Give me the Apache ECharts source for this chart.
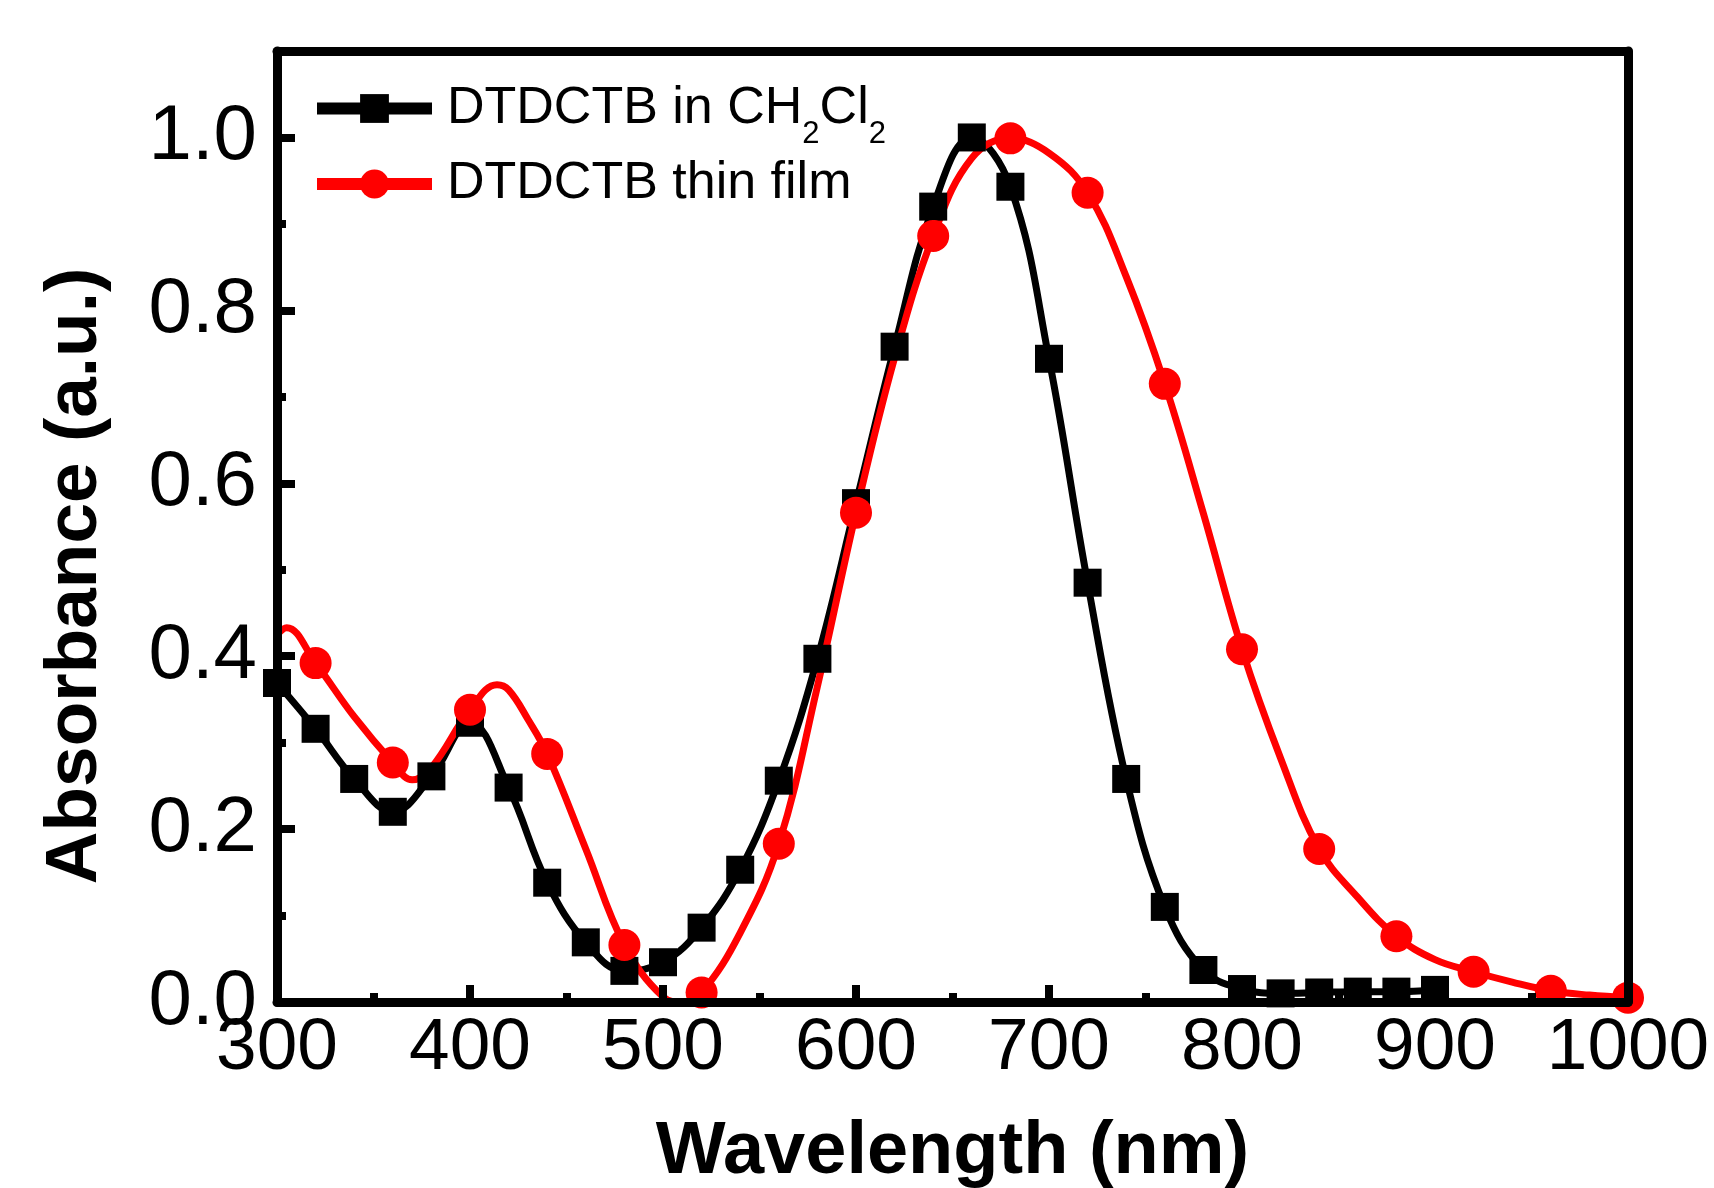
<!DOCTYPE html>
<html lang="en">
<head>
    <meta charset="UTF-8">
    <title>DTDCTB absorbance</title>
    <script src="https://cdn.jsdelivr.net/npm/echarts@6/dist/echarts.min.js"></script>
    <style>
        html, body { margin: 0; padding: 0; background: #fff; }
        #main { width: 1714px; height: 1188px; }
    </style>
</head>
<body>
    <div id="main"></div>
    <script>
        // DTDCTB in CH2Cl2 (every point carries a square marker)
        var blackWl = [300, 320, 340, 360, 380, 400, 420, 440, 460, 480, 500, 520, 540, 560, 580, 600,
            620, 640, 660, 680, 700, 720, 740, 760, 780, 800, 820, 840, 860, 880, 900];
        var blackAbs = [0.369, 0.316, 0.258, 0.220, 0.261, 0.323, 0.248, 0.138, 0.069, 0.036, 0.046, 0.086,
            0.153, 0.256, 0.397, 0.577, 0.758, 0.920, 1.000, 0.943, 0.744, 0.485, 0.258, 0.110, 0.037,
            0.015, 0.010, 0.011, 0.012, 0.012, 0.014];

        // DTDCTB thin film (curve readings; circle markers every 40 nm from 320)
        var redWl = [300, 305, 320, 340, 360, 370, 380, 400, 414, 420, 430, 440, 460, 480, 500, 510, 520,
            540, 560, 580, 600, 620, 640, 660, 680, 700, 720, 740, 760, 780, 800, 820, 840, 860, 880, 900,
            920, 940, 960, 980, 1000];
        var redAbs = [0.425, 0.433, 0.392, 0.330, 0.277, 0.257, 0.271, 0.338, 0.367, 0.361, 0.327, 0.287,
            0.177, 0.066, 0.006, 0.000, 0.011, 0.080, 0.183, 0.365, 0.566, 0.745, 0.886, 0.976, 0.999,
            0.982, 0.936, 0.839, 0.715, 0.565, 0.408, 0.282, 0.177, 0.121, 0.076, 0.049, 0.035, 0.023,
            0.013, 0.008, 0.005];
        var redMarkerWl = [320, 360, 400, 440, 480, 520, 560, 600, 640, 680, 720, 760, 800, 840, 880, 920, 960, 1000];

        var seriesNames = ['DTDCTB in CH2Cl2', 'DTDCTB thin film'];
        var yTickLabels = ['0.0', '0.2', '0.4', '0.6', '0.8', '1.0'];

        var font = '"Liberation Sans", Arial, sans-serif';

        var blackData = [];
        for (var i = 0; i < blackWl.length; i++) {
            blackData.push([blackWl[i], blackAbs[i]]);
        }
        var redData = [];
        for (var j = 0; j < redWl.length; j++) {
            var item = { value: [redWl[j], redAbs[j]] };
            if (redMarkerWl.indexOf(redWl[j]) < 0) item.symbol = 'none';
            redData.push(item);
        }

        var frameLine = { show: true, onZero: false, lineStyle: { color: '#000', width: 9 } };

        var myChart = echarts.init(document.getElementById('main'));

        var option = {
            animation: false,
            backgroundColor: '#fff',
            grid: { left: 277, right: 86, top: 51, bottom: 186, outerBoundsMode: 'none', containLabel: false },
            legend: {
                data: seriesNames,
                orient: 'vertical',
                left: 306,
                top: 62,
                itemWidth: 115,
                itemHeight: 36,
                itemGap: 8,
                lineStyle: { width: 12 },
                textStyle: {
                    color: '#000',
                    fontFamily: font,
                    fontSize: 52,
                    padding: [0, 0, 0, 10],
                    rich: {
                        n: { fontFamily: font, fontSize: 52, lineHeight: 58, color: '#000' },
                        s: { fontFamily: font, fontSize: 31, lineHeight: 31, color: '#000', padding: [52, 0, 0, 0] }
                    }
                },
                formatter: function (name) {
                    if (name === seriesNames[0]) {
                        return '{n|DTDCTB in CH}{s|2}{n|Cl}{s|2}';
                    }
                    return '{n|' + name + '}';
                }
            },
            xAxis: [{
                type: 'value',
                min: 300,
                max: 1000,
                interval: 100,
                z: 5,
                name: 'Wavelength (nm)',
                nameLocation: 'middle',
                nameGap: 114,
                nameTextStyle: { color: '#000', fontFamily: font, fontSize: 74, fontWeight: 'bold' },
                axisLine: frameLine,
                axisTick: { show: true, inside: true, length: 17, lineStyle: { color: '#000', width: 8 } },
                minorTick: { show: true, splitNumber: 2, length: 9, lineStyle: { color: '#000', width: 8 } },
                axisLabel: {
                    color: '#000', fontFamily: font, fontSize: 73, margin: 10,
                    formatter: function (v) { return String(v); }
                },
                splitLine: { show: false }
            }, {
                type: 'value',
                position: 'top',
                min: 300,
                max: 1000,
                z: 5,
                axisLine: frameLine,
                axisTick: { show: false },
                axisLabel: { show: false },
                splitLine: { show: false }
            }],
            yAxis: [{
                type: 'value',
                min: 0,
                max: 1.1,
                interval: 0.2,
                z: 5,
                axisLine: frameLine,
                axisTick: { show: true, inside: true, length: 18, lineStyle: { color: '#000', width: 8 } },
                axisLabel: {
                    color: '#000', fontFamily: font, fontSize: 78, margin: 20, showMaxLabel: false,
                    formatter: function (v) { return yTickLabels[Math.round(v / 0.2)] || ''; }
                },
                splitLine: { show: false }
            }, {
                type: 'value',
                position: 'left',
                min: 0,
                max: 1.1,
                interval: 0.1,
                z: 5,
                axisLine: { show: false },
                axisTick: { show: true, inside: true, length: 9, lineStyle: { color: '#000', width: 8 } },
                axisLabel: { show: false },
                splitLine: { show: false }
            }, {
                type: 'value',
                position: 'right',
                min: 0,
                max: 1.1,
                z: 5,
                axisLine: frameLine,
                axisTick: { show: false },
                axisLabel: { show: false },
                splitLine: { show: false }
            }],
            graphic: [{
                type: 'text',
                x: 76,
                y: 576,
                rotation: Math.PI / 2,
                style: {
                    text: 'Absorbance (a.u.)',
                    font: 'bold 73px ' + font,
                    fill: '#000',
                    align: 'center',
                    verticalAlign: 'middle',
                    textAlign: 'center',
                    textVerticalAlign: 'middle'
                }
            }],
            series: [{
                name: seriesNames[0],
                type: 'line',
                xAxisIndex: 0,
                yAxisIndex: 0,
                smooth: 0.4,
                symbol: 'rect',
                symbolSize: 28,
                lineStyle: { color: '#000', width: 7 },
                itemStyle: { color: '#000' },
                data: blackData
            }, {
                name: seriesNames[1],
                type: 'line',
                xAxisIndex: 0,
                yAxisIndex: 0,
                smooth: 0.4,
                symbol: 'circle',
                symbolSize: 32,
                lineStyle: { color: '#ff0000', width: 7 },
                itemStyle: { color: '#ff0000' },
                data: redData
            }]
        };

        myChart.setOption(option);
    </script>
</body>
</html>
